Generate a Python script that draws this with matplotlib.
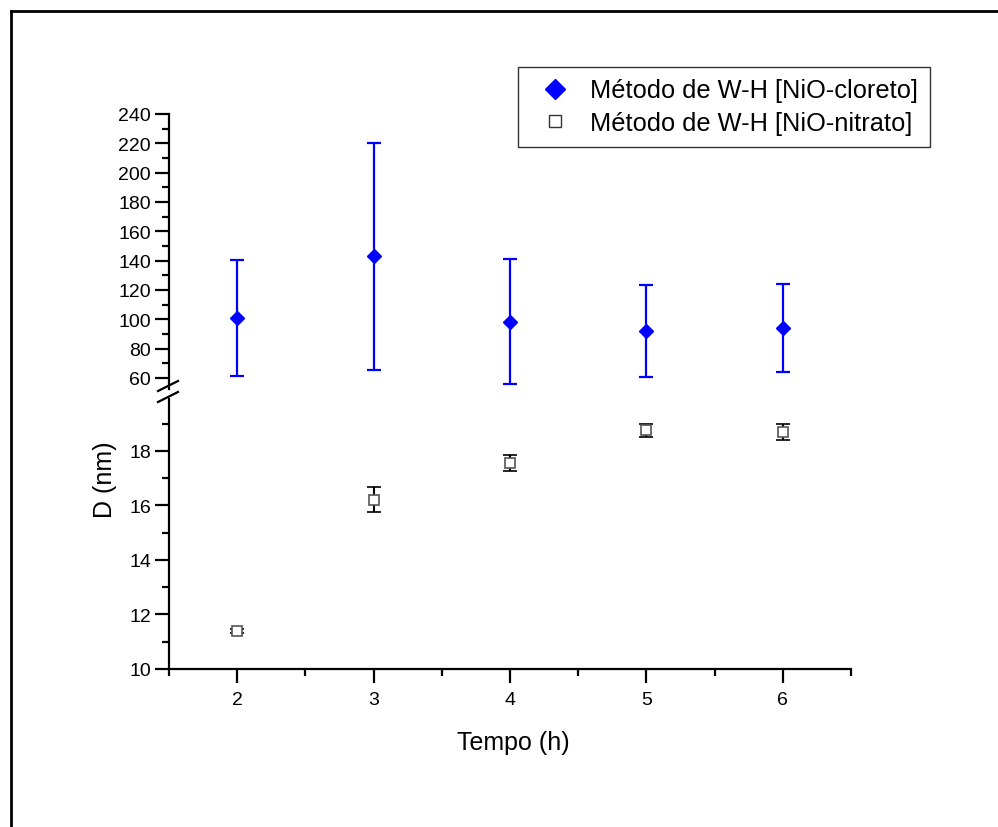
import matplotlib.pyplot as plt
from matplotlib.lines import Line2D
from matplotlib.ticker import MultipleLocator

plt.rcParams['font.family'] = ['Liberation Sans', 'DejaVu Sans']

# dados
tempo = [2, 3, 4, 5, 6]
d_cloreto = [101, 143, 98.3, 92, 94.3]
err_cloreto = [39.5, 77.5, 42.6, 31.5, 30]
d_nitrato = [11.4, 16.2, 17.55, 18.75, 18.68]
err_nitrato = [0.08, 0.46, 0.3, 0.24, 0.3]

rotulo_cloreto = 'Método de W-H [NiO-cloreto]'
rotulo_nitrato = 'Método de W-H [NiO-nitrato]'

W, H = 998, 828
fig = plt.figure(figsize=(W / 100, H / 100), dpi=100)

x0, x1 = 169 / W, 851 / W
ax_top = fig.add_axes([x0, 1 - 390 / H, x1 - x0, (390 - 115) / H])
ax_bot = fig.add_axes([x0, 1 - 670 / H, x1 - x0, (670 - 400) / H])

# parte de cima (cloreto)
ax_top.errorbar(tempo, d_cloreto, yerr=err_cloreto, fmt='D', color='#0000ff',
                markersize=7.5, elinewidth=1.6, capsize=5, capthick=1.6)
ax_top.set_xlim(1.5, 6.5)
ax_top.set_ylim(52.5, 240)
ax_top.yaxis.set_major_locator(MultipleLocator(20))
ax_top.yaxis.set_minor_locator(MultipleLocator(10))
ax_top.set_yticks(range(60, 241, 20))
ax_top.set_xticks([])
for s in ['top', 'right', 'bottom']:
    ax_top.spines[s].set_visible(False)

# parte de baixo (nitrato)
ax_bot.errorbar(tempo, d_nitrato, yerr=err_nitrato, fmt='s', color='black',
                markerfacecolor='white', markeredgecolor='#555555',
                markersize=7, markeredgewidth=1.2, elinewidth=1.5,
                capsize=5, capthick=1.8, zorder=3)
ax_bot.set_xlim(1.5, 6.5)
ax_bot.set_ylim(10, 19.9)
ax_bot.yaxis.set_major_locator(MultipleLocator(2))
ax_bot.yaxis.set_minor_locator(MultipleLocator(1))
ax_bot.xaxis.set_major_locator(MultipleLocator(1))
ax_bot.xaxis.set_minor_locator(MultipleLocator(0.5))
ax_bot.set_xticks(tempo)
for s in ['top', 'right']:
    ax_bot.spines[s].set_visible(False)

for ax in (ax_top, ax_bot):
    ax.patch.set_visible(False)
    for s in ax.spines.values():
        s.set_linewidth(1.6)
    ax.tick_params(which='major', direction='out', length=10, width=1.6,
                   labelsize=14, pad=3)
    ax.tick_params(which='minor', direction='out', length=5, width=1.6)
ax_top.tick_params(axis='x', which='both', bottom=False)
ax_bot.tick_params(axis='x', which='major', pad=6)

# marcas de quebra do eixo
for yb in (387, 398):
    fig.add_artist(Line2D([158 / W, 178 / W], [1 - (yb + 5) / H, 1 - (yb - 5) / H],
                          color='black', lw=1.6))

fig.text(105 / W, 1 - 480 / H, 'D (nm)', rotation=90, fontsize=18,
         ha='center', va='center')
fig.text(513 / W, 1 - 743 / H, 'Tempo (h)', fontsize=18, ha='center', va='center')

handles = [
    Line2D([], [], ls='none', marker='D', color='#0000ff', markersize=10),
    Line2D([], [], ls='none', marker='s', markerfacecolor='white',
           markeredgecolor='#333333', markersize=8, markeredgewidth=1),
]
leg = fig.legend(handles, [rotulo_cloreto, rotulo_nitrato], loc='upper left',
                 bbox_to_anchor=(518 / W, 1 - 68 / H), bbox_transform=fig.transFigure,
                 fontsize=18.3, frameon=True, fancybox=False, shadow=False,
                 edgecolor='black', borderaxespad=0, borderpad=0.45,
                 labelspacing=0.35, handlelength=2.0, handletextpad=0.4)
leg.get_frame().set_linewidth(1.0)

# moldura da figura
fig.add_artist(Line2D([11 / W, 11 / W], [0, 1 - 12 / H], color='black', lw=2))
fig.add_artist(Line2D([11 / W, 1], [1 - 12 / H, 1 - 12 / H], color='black', lw=2))

fig.savefig('out.png', dpi=100)
